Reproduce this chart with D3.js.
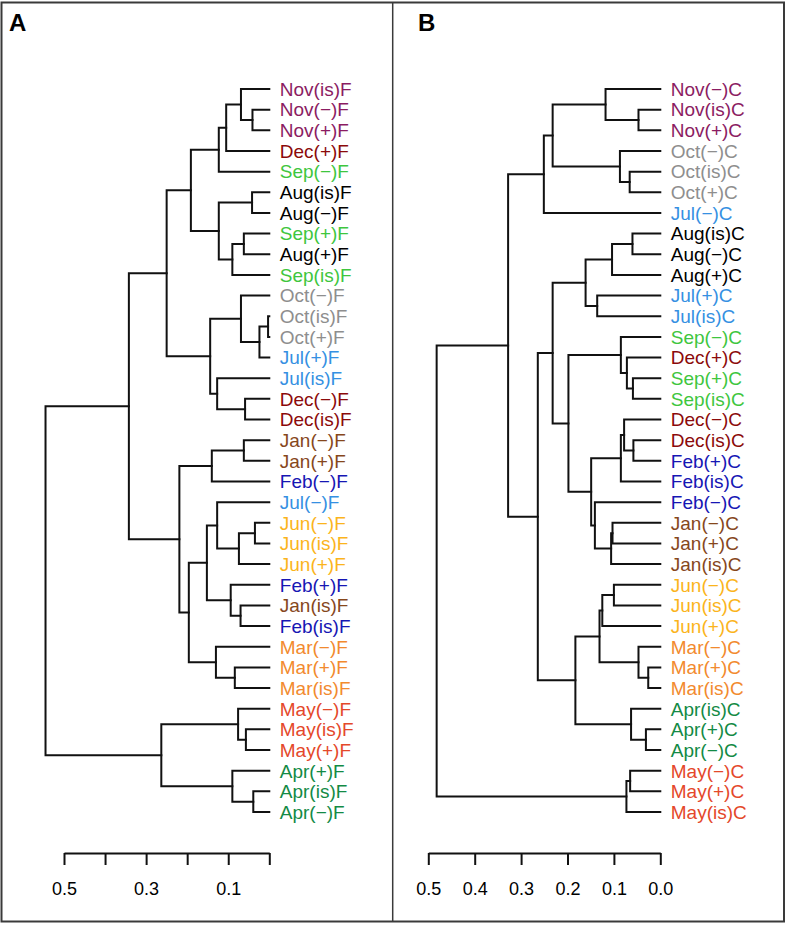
<!DOCTYPE html>
<html>
<head>
<meta charset="utf-8">
<script src="https://cdn.jsdelivr.net/npm/d3@7"></script>
<style>
  html, body { margin: 0; padding: 0; background: #fff; }
  svg { display: block; font-family: "Liberation Sans", Arial, Helvetica, sans-serif; }
</style>
</head>
<body>
<svg id="chart" width="787" height="925"></svg>
<script>
// ---------- DATA ----------
const months = ["Jan","Feb","Mar","Apr","May","Jun","Jul","Aug","Sep","Oct","Nov","Dec"];
const monthColors = ["#86471c","#1616b4","#f28a2e","#138a45","#e4482a","#fbb41c","#3590e2","#000000","#3ec63e","#8e8e8e","#8b1c62","#8b0a0a"];

// Panel A (F) leaves, top to bottom
const leavesA = ["Nov(is)F","Nov(−)F","Nov(+)F","Dec(+)F","Sep(−)F","Aug(is)F","Aug(−)F","Sep(+)F","Aug(+)F","Sep(is)F",
  "Oct(−)F","Oct(is)F","Oct(+)F","Jul(+)F","Jul(is)F","Dec(−)F","Dec(is)F","Jan(−)F","Jan(+)F","Feb(−)F",
  "Jul(−)F","Jun(−)F","Jun(is)F","Jun(+)F","Feb(+)F","Jan(is)F","Feb(is)F","Mar(−)F","Mar(+)F","Mar(is)F",
  "May(−)F","May(is)F","May(+)F","Apr(+)F","Apr(is)F","Apr(−)F"];
// merges: [left, right, height]; negative = leaf (1-based), positive = earlier merge (1-based)
const mergesA = [
  [-2,-3,0.041],[-1,1,0.069],[2,-4,0.105],[3,-5,0.123],[-6,-7,0.042],[-8,-9,0.062],[6,-10,0.090],[5,7,0.123],[4,8,0.191],
  [-12,-13,0.003],[10,-14,0.024],[-11,11,0.069],[-16,-17,0.059],[-15,13,0.127],[12,14,0.144],[9,15,0.250],
  [-18,-19,0.062],[17,-20,0.140],[-22,-23,0.035],[19,-24,0.074],[-21,20,0.127],[-26,-27,0.070],[-25,22,0.094],
  [21,23,0.152],[-29,-30,0.084],[-28,25,0.130],[24,26,0.196],[18,27,0.219],[16,28,0.342],
  [-32,-33,0.057],[-31,30,0.076],[-35,-36,0.039],[-34,32,0.090],[31,33,0.263],[29,34,0.545]
];
const ticksA = [0.5,0.4,0.3,0.2,0.1,0.0];
const tickLabelsA = ["0.5","","0.3","","0.1",""];

// Panel B (C) leaves, top to bottom
const leavesB = ["Nov(−)C","Nov(is)C","Nov(+)C","Oct(−)C","Oct(is)C","Oct(+)C","Jul(−)C","Aug(is)C","Aug(−)C","Aug(+)C",
  "Jul(+)C","Jul(is)C","Sep(−)C","Dec(+)C","Sep(+)C","Sep(is)C","Dec(−)C","Dec(is)C","Feb(+)C","Feb(is)C",
  "Feb(−)C","Jan(−)C","Jan(+)C","Jan(is)C","Jun(−)C","Jun(is)C","Jun(+)C","Mar(−)C","Mar(+)C","Mar(is)C",
  "Apr(is)C","Apr(+)C","Apr(−)C","May(−)C","May(+)C","May(is)C"];
const mergesB = [
  [-2,-3,0.047],[-1,1,0.118],[-5,-6,0.066],[-4,3,0.087],[2,4,0.232],[5,-7,0.251],
  [-8,-9,0.060],[7,-10,0.104],[-11,-12,0.136],[8,9,0.161],
  [-15,-16,0.059],[-14,11,0.072],[-13,12,0.085],[-18,-19,0.058],[-17,14,0.078],[15,-20,0.085],
  [-22,-23,0.103],[17,-24,0.106],[-21,18,0.141],[16,19,0.149],[13,20,0.198],[10,21,0.232],
  [-25,-26,0.100],[23,-27,0.125],[-29,-30,0.026],[-28,25,0.047],[24,26,0.131],
  [-32,-33,0.031],[-31,28,0.063],[27,29,0.183],[22,30,0.264],[6,31,0.328],
  [-34,-35,0.065],[33,-36,0.073],[32,34,0.482]
];
const ticksB = [0.5,0.4,0.3,0.2,0.1,0.0];
const tickLabelsB = ["0.5","0.4","0.3","0.2","0.1","0.0"];

// ---------- DRAW ----------
const svg = d3.select("#chart");
const colorOf = lbl => monthColors[months.indexOf(lbl.slice(0,3))];

function buildTree(leaves, merges) {
  const nodes = [];
  const ref = r => r < 0 ? {name: leaves[-r-1], height: 0} : nodes[r-1];
  merges.forEach(m => nodes.push({height: m[2], children: [ref(m[0]), ref(m[1])]}));
  return d3.hierarchy(nodes[nodes.length-1]);
}

function drawPanel(leaves, merges, ticks, tickLabels, xRange, letter, letterX) {
  const x = d3.scaleLinear().domain([0, 0.5]).range(xRange);
  const y = d3.scalePoint().domain(leaves).range([89, 812]);
  const root = buildTree(leaves, merges);
  root.eachAfter(n => {
    if (!n.children) n.py = y(n.data.name);
    else n.py = d3.mean(n.children, c => c.py);
    n.px = x(n.data.height);
  });
  const g = svg.append("g");
  const paths = [];
  root.each(n => {
    if (n.children) {
      const [a, b] = n.children;
      paths.push(`M${a.px},${a.py}H${n.px}V${b.py}H${b.px}`);
    }
  });
  g.selectAll("path.link").data(paths).join("path")
    .attr("class","link").attr("d", d => d)
    .attr("fill","none").attr("stroke","#111").attr("stroke-width",2)
    .attr("stroke-linejoin","miter").attr("stroke-linecap","square");

  g.selectAll("text.leaf").data(root.leaves()).join("text")
    .attr("class","leaf")
    .attr("x", d => d.px + 10.5).attr("y", d => d.py)
    .attr("dy","0.36em")
    .attr("font-size", 19)
    .attr("fill", d => colorOf(d.data.name))
    .text(d => d.data.name);

  const axis = d3.axisBottom(x).tickValues(ticks)
    .tickFormat((d,i) => tickLabels[i]).tickSize(12).tickSizeOuter(0).tickPadding(17);
  const ag = g.append("g").attr("transform","translate(0,853)").call(axis);
  ag.selectAll("path, line").attr("stroke","#111").attr("stroke-width",2);
  ag.selectAll("text").attr("font-size",18).attr("fill","#000")
    .attr("font-family","\"Liberation Sans\", Arial, Helvetica, sans-serif");

  svg.append("text").attr("x", letterX).attr("y", 31)
    .attr("font-size", 24).attr("font-weight","bold").attr("fill","#000")
    .text(letter);
}

drawPanel(leavesA, mergesA, ticksA, tickLabelsA, [269.3, 64], "A", 9);
drawPanel(leavesB, mergesB, ticksB, tickLabelsB, [660.3, 428.3], "B", 418);

// frame
svg.append("rect").attr("x",1.5).attr("y",2.5).attr("width",782.5).attr("height",919)
  .attr("fill","none").attr("stroke","#3a3a3a").attr("stroke-width",2);
svg.append("line").attr("x1",392.7).attr("x2",392.7).attr("y1",2.5).attr("y2",921.5)
  .attr("stroke","#3a3a3a").attr("stroke-width",1.5);
</script>
</body>
</html>
